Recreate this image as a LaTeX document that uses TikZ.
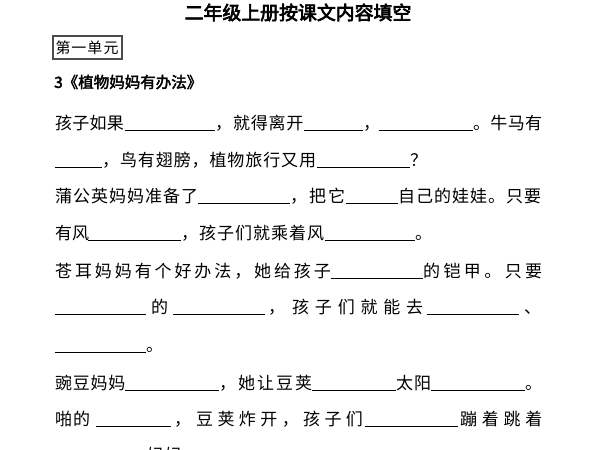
\documentclass[tikz,border=0pt]{standalone}
\usepackage{fontspec}
\setmainfont{Noto Sans CJK SC}[AutoFakeBold=2.5]
\newfontfamily\titlefont{Noto Sans CJK SC}[FakeBold=3.5]
\makeatletter
\newcommand\spaced[2]{\@tfor\spx@c:=#2\do{\makebox[#1][l]{\spx@c}}}
\makeatother
\tikzset{
  txt/.style={anchor=base west, inner sep=0pt, font=\fontsize{17}{17}\selectfont},
  blankline/.style={line width=0.9pt, black},
  unitbox/.style={draw=black!70, line width=1.1pt, minimum width=69pt, minimum height=23pt, inner sep=0pt, font=\fontsize{15}{15}\selectfont},
}
\newcommand\frag[5]{\node[txt] (#1) at (#2,#3) {\spaced{#4pt}{#5}};}
\newcommand\blank[3]{\draw[blankline] (#1,#3+1.5) -- (#2,#3+1.5);}
\begin{document}
\begin{tikzpicture}[x=1pt,y=-1pt]
\useasboundingbox (0,0) rectangle (600,450);
\fill[white] (0,0) rectangle (600,450);
\clip (0,0) rectangle (600,450);
% title
\node[inner sep=0pt, font=\fontsize{18.9}{19}\selectfont\titlefont] (title) at (298,12.5) {二年级上册按课文内容填空};
% unit box
\node[unitbox] (unit) at (87.5,47.5) {\spaced{16pt}{第一单元}};
% heading
\node[anchor=west, inner sep=0pt, font=\fontsize{15.5}{16}\selectfont\bfseries] (head) at (54,82) {3《植物妈妈有办法》};
% line 1
\frag{la1}{55}{129}{17.25}{孩子如果}
\blank{125}{215}{129}
\frag{la2}{215}{129}{17.8}{，就得离开}
\blank{304}{363}{129}
\frag{la3}{363}{129}{17}{，}
\blank{379}{473}{129}
\frag{la4}{473}{129}{17.3}{。牛马有}
% line 2
\blank{55}{102}{166}
\frag{lb1}{102}{166}{17.9}{，鸟有翅膀，植物旅行又用}
\blank{317}{410}{166}
\frag{lb2}{410}{166}{17}{？}
% line 3
\frag{lc1}{55}{202}{18}{蒲公英妈妈准备了}
\blank{198}{290}{202}
\frag{lc2}{290}{202}{19}{，把它}
\blank{346}{398}{202}
\frag{lc3}{398}{202}{18}{自己的娃娃。只要}
% line 4
\frag{ld1}{55}{239}{17}{有风}
\blank{88}{181}{239}
\frag{ld2}{181}{239}{18}{，孩子们就乘着风}
\blank{325}{415}{239}
\frag{ld3}{415}{239}{17}{。}
% line 5
\frag{le1}{55}{277}{19.9}{苍耳妈妈有个好办法，她给孩子}
\blank{331}{423}{277}
\frag{le2}{423}{277}{20.4}{的铠甲。只要}
% line 6
\blank{55}{146}{313}
\frag{lf1}{151}{313}{17}{的}
\blank{173}{265}{313}
\frag{lf2}{268}{313}{17}{，}
\frag{lf3}{292}{313}{22.8}{孩子们就能去}
\blank{427}{519}{313}
\frag{lf4}{524}{313}{17}{、}
% line 7
\blank{55}{146}{351}
\frag{lg1}{146}{351}{17}{。}
% line 8
\frag{lh1}{55}{389}{17.7}{豌豆妈妈}
\blank{125}{219}{389}
\frag{lh2}{219}{389}{19}{，她让豆荚}
\blank{312}{396}{389}
\frag{lh3}{396}{389}{18}{太阳}
\blank{431}{525}{389}
\frag{lh4}{525}{389}{17}{。}
% line 9
\frag{li1}{55}{425}{18}{啪的}
\blank{96}{171}{425}
\frag{li2}{174}{425}{17}{，}
\frag{li3}{196}{425}{21.4}{豆荚炸开，孩子们}
\blank{365}{458}{425}
\frag{li4}{460}{425}{21.7}{蹦着跳着}
% line 10 (cut off at the lower edge, as in the reference)
\blank{55}{145}{461}
\frag{lj1}{147}{461}{18}{妈妈}
\end{tikzpicture}
\end{document}
